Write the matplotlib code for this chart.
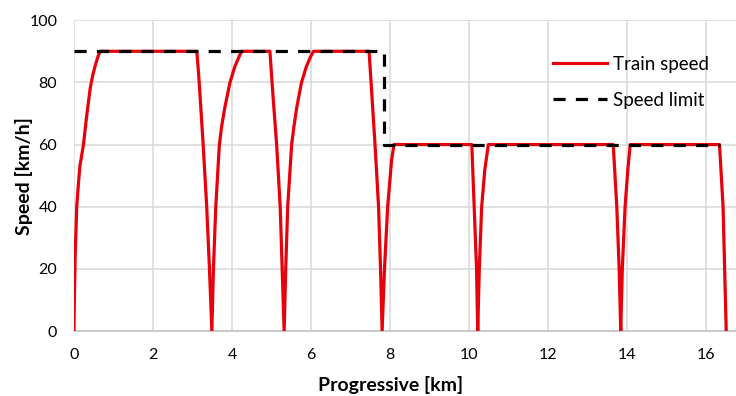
import matplotlib.pyplot as plt

plt.rcParams['font.family'] = ['Lato', 'DejaVu Sans']

# train speed profile (km, km/h)
km = [0.0, 0.01, 0.03, 0.07, 0.11, 0.15, 0.24, 0.32, 0.41, 0.47, 0.53, 0.60, 0.66,
      3.11, 3.17, 3.22, 3.27, 3.36, 3.43, 3.49,
      3.53, 3.59, 3.68, 3.74, 3.82, 3.95, 4.07, 4.17, 4.24,
      4.96, 5.03, 5.13, 5.22, 5.27, 5.32,
      5.36, 5.41, 5.51, 5.57, 5.64, 5.76, 5.88, 5.98, 6.06,
      7.47, 7.54, 7.62, 7.71, 7.76, 7.80,
      7.86, 7.94, 8.04, 8.10,
      10.07, 10.13, 10.19, 10.22,
      10.26, 10.32, 10.40, 10.49,
      13.65, 13.74, 13.80, 13.84,
      13.88, 13.95, 14.02, 14.08,
      16.34, 16.43, 16.47, 16.51]
speed = [0, 10, 24, 40, 47, 53, 60, 69, 78, 82, 85, 88, 90,
         90, 80, 70, 60, 40, 20, 0,
         20, 40, 60, 66, 72, 80, 85, 88, 90,
         90, 77, 60, 40, 20, 0,
         20, 40, 60, 66, 72, 80, 85, 88, 90,
         90, 76, 60, 40, 20, 0,
         20, 40, 55, 60,
         60, 40, 20, 0,
         20, 40, 52, 60,
         60, 40, 20, 0,
         20, 40, 52, 60,
         60, 40, 20, 0]

# speed limit steps
lim_km = [0.0, 7.85, 7.85, 16.35]
lim_speed = [90, 90, 60, 60]

fig = plt.figure(figsize=(7.36, 3.96), dpi=100)
ax = fig.add_axes([0.1005, 0.164, 0.905, 0.785])

ax.plot(km, speed, color='#e8000b', lw=2.3, label='Train speed', zorder=3)
ln, = ax.plot(lim_km, lim_speed, color='black', lw=2.3, label='Speed limit', zorder=4)
ln.set_dashes((3.8, 3.2))

ax.set_xlim(0, 16.86)
ax.set_ylim(0, 100)
ax.set_xticks(range(0, 17, 2))
ax.set_yticks(range(0, 101, 20))
ax.grid(True, color='#d9d9d9', lw=1.1)
ax.set_axisbelow(True)
for s in ['top', 'right', 'left']:
    ax.spines[s].set_visible(False)
ax.spines['bottom'].set_color('#bfbfbf')
ax.spines['bottom'].set_linewidth(1.1)
ax.tick_params(length=0, labelsize=11.5, pad=12, colors='#404040', labelcolor='black')

ax.set_xlabel('Progressive [km]', fontsize=14, fontweight='bold')
ax.set_ylabel('Speed [km/h]', fontsize=14, fontweight='bold')
ax.xaxis.set_label_coords(0.476, -0.145)
ax.yaxis.set_label_coords(-0.062, 0.498)

ax.legend(loc='center left', bbox_to_anchor=(0.719, 0.80), frameon=False,
          fontsize=13.5, handlelength=2.9, handletextpad=0.3, labelspacing=1.0,
          borderpad=0, borderaxespad=0)

fig.savefig('out.png', dpi=100)
